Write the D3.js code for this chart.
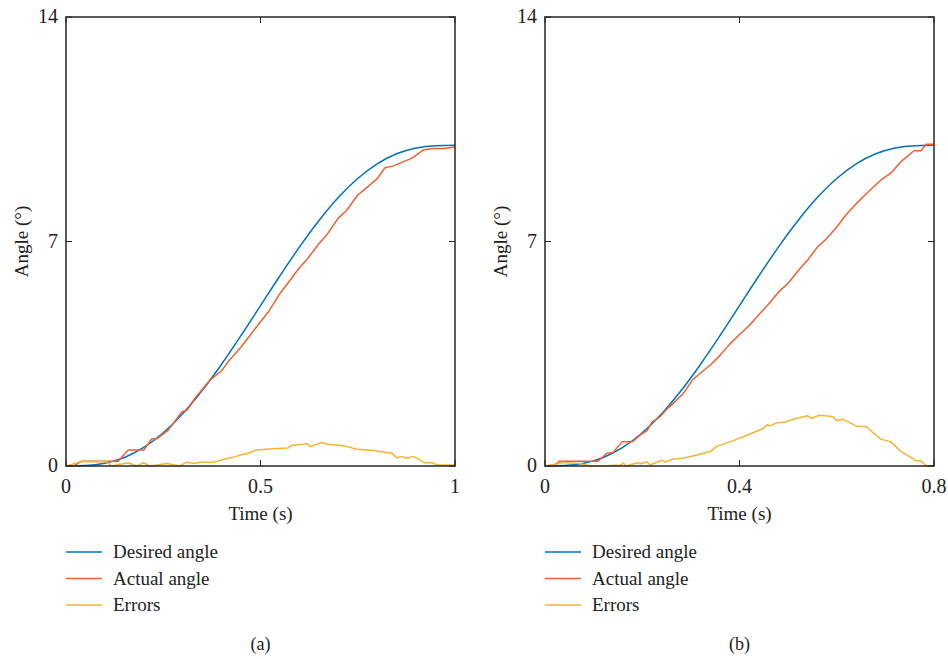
<!DOCTYPE html>
<html>
<head>
<meta charset="utf-8">
<script src="https://cdn.jsdelivr.net/npm/d3@7"></script>
<style>
  body { margin: 0; background: #fff; }
  svg { font-family: "Liberation Serif", "DejaVu Serif", serif; }
</style>
</head>
<body>
<div id="showBox"></div>
<script>
// desired trajectory, sampled at 21 equal steps of each run
const desiredFrac = [0, 0.05, 0.1, 0.15, 0.2, 0.25, 0.3, 0.35, 0.4, 0.45, 0.5,
  0.55, 0.6, 0.65, 0.7, 0.75, 0.8, 0.85, 0.9, 0.95, 1];
const desiredVals = [0, 0.012, 0.086, 0.266, 0.579, 1.035, 1.631, 2.352, 3.174, 4.069, 5,
  5.931, 6.826, 7.648, 8.369, 8.965, 9.421, 9.734, 9.914, 9.988, 10];

// panel (a), run length 1 s
const actualA_t = [0, 0.02, 0.04, 0.134, 0.16, 0.2, 0.22, 0.235, 0.263, 0.298, 0.31, 0.332, 0.37,
  0.4, 0.42, 0.45, 0.47, 0.5, 0.52, 0.55, 0.57, 0.6, 0.62, 0.65, 0.67, 0.7, 0.72, 0.75, 0.77,
  0.8, 0.82, 0.84, 0.86, 0.89, 0.918, 0.944, 0.97, 1];
const actualA_v = [0, 0, 0.15, 0.15, 0.5, 0.5, 0.84, 0.86, 1.12, 1.69, 1.73, 2.12, 2.68,
  2.97, 3.3, 3.71, 4.02, 4.5, 4.8, 5.38, 5.7, 6.18, 6.45, 6.93, 7.2, 7.73, 7.95, 8.45, 8.65,
  8.96, 9.3, 9.35, 9.45, 9.6, 9.85, 9.9, 9.9, 9.95];
const errorA_t = [0, 0.04, 0.105, 0.117, 0.16, 0.182, 0.198, 0.216, 0.26, 0.293, 0.31, 0.33, 0.345,
  0.375, 0.39, 0.405, 0.43, 0.447, 0.465, 0.49, 0.53, 0.57, 0.58, 0.62, 0.628, 0.657, 0.672,
  0.687, 0.717, 0.748, 0.79, 0.837, 0.85, 0.862, 0.875, 0.893, 0.923, 0.943, 0.953, 0.995, 1];
const errorA_v = [0, 0.14, 0.13, 0, 0.1, 0, 0.1, 0, 0.08, 0, 0.12, 0.08, 0.12,
  0.12, 0.14, 0.21, 0.27, 0.34, 0.38, 0.5, 0.54, 0.56, 0.64, 0.69, 0.61, 0.73, 0.68,
  0.66, 0.62, 0.52, 0.48, 0.4, 0.26, 0.3, 0.24, 0.3, 0.1, 0.1, 0.03, 0.03, 0];

// panel (b), run length 0.8 s
const actualB_t = [0, 0.018, 0.03, 0.109, 0.128, 0.14, 0.159, 0.18, 0.196, 0.21, 0.22, 0.237, 0.251,
  0.262, 0.285, 0.303, 0.32, 0.34, 0.36, 0.38, 0.4, 0.42, 0.44, 0.46, 0.48, 0.5, 0.52, 0.54,
  0.56, 0.58, 0.6, 0.62, 0.64, 0.665, 0.691, 0.711, 0.732, 0.759, 0.773, 0.784, 0.8];
const actualB_v = [0, 0, 0.15, 0.15, 0.4, 0.42, 0.76, 0.76, 0.97, 1.1, 1.37, 1.54, 1.78,
  1.93, 2.27, 2.68, 2.9, 3.15, 3.45, 3.8, 4.1, 4.38, 4.72, 5.05, 5.42, 5.7, 6.08, 6.42,
  6.82, 7.1, 7.45, 7.85, 8.18, 8.55, 8.92, 9.13, 9.49, 9.83, 9.83, 10.03, 10.03];
const errorB_t = [0, 0.038, 0.072, 0.093, 0.119, 0.155, 0.161, 0.167, 0.19, 0.196, 0.21, 0.216,
  0.241, 0.247, 0.262, 0.285, 0.313, 0.34, 0.354, 0.382, 0.408, 0.449, 0.457, 0.462, 0.474,
  0.485, 0.495, 0.51, 0.54, 0.548, 0.563, 0.592, 0.6, 0.612, 0.643, 0.66, 0.691, 0.711,
  0.732, 0.753, 0.763, 0.773, 0.784, 0.8];
const errorB_v = [0, 0.11, 0.08, 0, 0, 0.03, 0.09, 0, 0.1, 0.07, 0.13, 0.03,
  0.18, 0.12, 0.21, 0.25, 0.34, 0.45, 0.62, 0.76, 0.91, 1.17, 1.29, 1.25, 1.33,
  1.36, 1.37, 1.46, 1.57, 1.48, 1.58, 1.54, 1.42, 1.46, 1.23, 1.23, 0.83, 0.76,
  0.45, 0.27, 0.16, 0.16, 0, 0];

const seriesNames = ["Desired angle", "Actual angle", "Errors"];
const seriesColors = ["#0072BD", "#EC6132", "#F5B433"];
const yTicks = [0, 7, 14];

const W = 948, H = 659;
const svg = d3.select("#showBox").append("svg").attr("width", W).attr("height", H);

function panel(left, tMax, xTicks, runs, tag) {
  const top = 17, bottom = 466, right = left + 389;
  const x = d3.scaleLinear().domain([0, tMax]).range([left, right]);
  const y = d3.scaleLinear().domain([0, 14]).range([bottom, top]);
  const g = svg.append("g");

  runs.forEach((r, i) => {
    // the desired curve is smooth, the measured ones are raw polylines
    const line = d3.line().x(d => x(d[0])).y(d => y(d[1]))
      .curve(i === 0 ? d3.curveMonotoneX : d3.curveLinear);
    g.append("path")
      .datum(r)
      .attr("fill", "none")
      .attr("stroke", seriesColors[i])
      .attr("stroke-width", 1.5)
      .attr("stroke-linejoin", "round")
      .attr("d", line);
  });

  // box and inward ticks
  g.append("rect")
    .attr("x", left).attr("y", top)
    .attr("width", right - left).attr("height", bottom - top)
    .attr("fill", "none").attr("stroke", "#262626").attr("stroke-width", 1.5);

  const tl = 6;
  xTicks.forEach(t => {
    g.append("line").attr("x1", x(t)).attr("x2", x(t)).attr("y1", bottom).attr("y2", bottom - tl)
      .attr("stroke", "#262626");
    g.append("line").attr("x1", x(t)).attr("x2", x(t)).attr("y1", top).attr("y2", top + tl)
      .attr("stroke", "#262626");
    g.append("text").attr("x", x(t)).attr("y", bottom + 27)
      .attr("text-anchor", "middle").attr("font-size", 20).attr("fill", "#222").text(t);
  });
  yTicks.forEach(t => {
    g.append("line").attr("x1", left).attr("x2", left + tl).attr("y1", y(t)).attr("y2", y(t))
      .attr("stroke", "#262626");
    g.append("line").attr("x1", right).attr("x2", right - tl).attr("y1", y(t)).attr("y2", y(t))
      .attr("stroke", "#262626");
    g.append("text").attr("x", left - 8).attr("y", y(t) + 6)
      .attr("text-anchor", "end").attr("font-size", 20).attr("fill", "#222").text(t);
  });

  g.append("text").attr("x", (left + right) / 2).attr("y", 520)
    .attr("text-anchor", "middle").attr("font-size", 19).attr("fill", "#222").text("Time (s)");
  g.append("text")
    .attr("transform", `translate(${left - 38},${(top + bottom) / 2}) rotate(-90)`)
    .attr("text-anchor", "middle").attr("font-size", 19).attr("fill", "#222").text("Angle (°)");

  // legend
  seriesNames.forEach((n, i) => {
    const ly = 552 + i * 26.5;
    g.append("line").attr("x1", left).attr("x2", left + 36).attr("y1", ly).attr("y2", ly)
      .attr("stroke", seriesColors[i]).attr("stroke-width", 1.5);
    g.append("text").attr("x", left + 47).attr("y", ly + 6)
      .attr("font-size", 19).attr("fill", "#222").text(n);
  });

  g.append("text").attr("x", (left + right) / 2).attr("y", 650)
    .attr("text-anchor", "middle").attr("font-size", 18).attr("fill", "#222").text(tag);
}

const zip = (a, b) => a.map((v, i) => [v, b[i]]);

panel(66, 1, [0, 0.5, 1], [
  zip(desiredFrac.map(f => f * 1), desiredVals),
  zip(actualA_t, actualA_v),
  zip(errorA_t, errorA_v)
], "(a)");

panel(545, 0.8, [0, 0.4, 0.8], [
  zip(desiredFrac.map(f => f * 0.8), desiredVals),
  zip(actualB_t, actualB_v),
  zip(errorB_t, errorB_v)
], "(b)");
</script>
</body>
</html>
